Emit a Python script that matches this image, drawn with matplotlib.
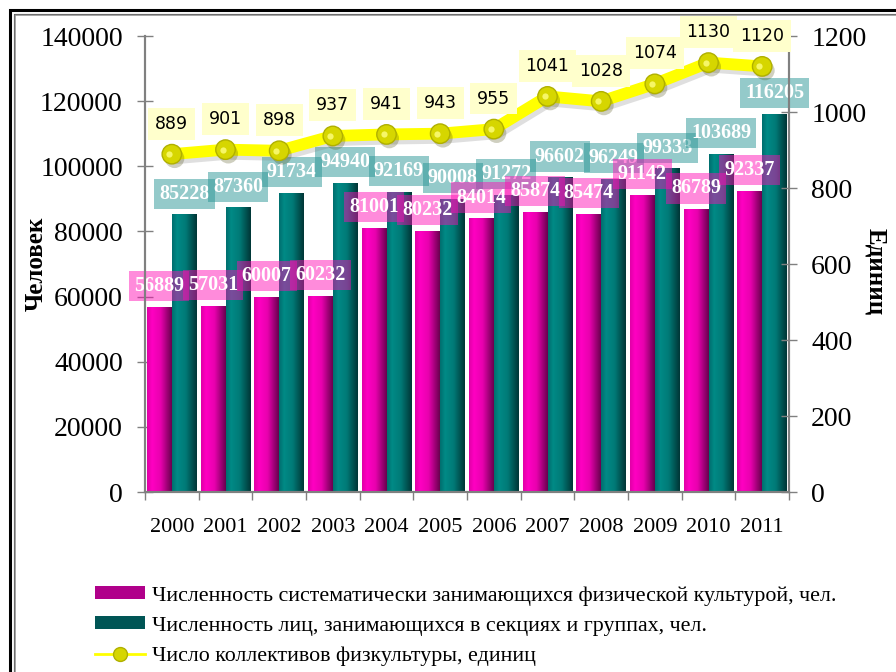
import numpy as np
import matplotlib
matplotlib.use('Agg')
import matplotlib.pyplot as plt
import matplotlib.patheffects as pe
from matplotlib.colors import LinearSegmentedColormap
from matplotlib.patches import Rectangle, Patch
from matplotlib.lines import Line2D

plt.rcParams['font.family'] = ['Liberation Serif', 'DejaVu Serif']

# data
years = ['2000', '2001', '2002', '2003', '2004', '2005',
         '2006', '2007', '2008', '2009', '2010', '2011']
systematic = [56889, 57031, 60007, 60232, 81001, 80232,
              84014, 85874, 85474, 91142, 86789, 92337]
sections = [85228, 87360, 91734, 94940, 92169, 90008,
            91272, 96602, 96249, 99333, 103689, 116205]
collectives = [889, 901, 898, 937, 941, 943, 955, 1041, 1028, 1074, 1130, 1120]

label_sys = 'Численность систематически занимающихся физической культурой, чел.'
label_sec = 'Численность лиц, занимающихся в секциях и группах, чел.'
label_col = 'Число коллективов физкультуры, единиц'

W, H = 896, 672
fig = plt.figure(figsize=(W/100, H/100), dpi=100)
ax = fig.add_axes([145/W, 1-492/H, (789-145)/W, (492-36)/H])
ax2 = ax.twinx()

x = np.arange(len(years))
bw = 0.465

pink_cmap = LinearSegmentedColormap.from_list(
    'pink', [(0, '#e000a6'), (0.2, '#ff00c2'), (0.55, '#e800ae'), (1, '#6a004e')])
teal_cmap = LinearSegmentedColormap.from_list(
    'teal', [(0, '#006e6e'), (0.2, '#008a86'), (0.55, '#007a77'), (1, '#003636')])


def shade(a, bars, cmap):
    # horizontal gradient clipped to every bar
    grad = np.linspace(0, 1, 64).reshape(1, -1)
    for b in bars:
        x0 = b.get_x()
        im = a.imshow(grad, cmap=cmap, aspect='auto', interpolation='bilinear',
                      extent=(x0, x0 + b.get_width(), 0, b.get_height()),
                      zorder=2.1)
        im.set_clip_path(b)


bars_sys = ax.bar(x - bw/2, systematic, bw, color='#f000b0', lw=0, zorder=2)
bars_sec = ax.bar(x + bw/2, sections, bw, color='#008080', lw=0, zorder=2)
shade(ax, bars_sys, pink_cmap)
shade(ax, bars_sec, teal_cmap)

ax.set_xlim(-0.5, len(years) - 0.5)
ax.set_ylim(0, 140000)
ax2.set_ylim(0, 1200)

# value labels of the bars
for xi, v in zip(x, sections):
    ax.annotate(str(v), (xi + bw/2, v), xytext=(0, 15), textcoords='offset points',
                ha='center', va='center', color='white', fontsize=14.5, fontweight='bold',
                bbox=dict(boxstyle='square,pad=0.25', fc='#2a9696', ec='none', alpha=0.5),
                zorder=5)
for xi, v in zip(x, systematic):
    ax.annotate(str(v), (xi - bw/2, v), xytext=(0, 15), textcoords='offset points',
                ha='center', va='center', color='white', fontsize=14.5, fontweight='bold',
                bbox=dict(boxstyle='square,pad=0.25', fc='#ff0ab4', ec='none', alpha=0.47),
                zorder=6)

# line with sphere markers
ax2.plot(x, collectives, color='#ffff00', lw=8.5, solid_capstyle='round', zorder=3,
         path_effects=[pe.SimpleLineShadow(offset=(2, -3), shadow_color='gray', alpha=0.25),
                       pe.Normal()])
ax2.plot(x, collectives, ls='none', marker='o', ms=14, mfc='#d6d600', mec='#b0b000',
         mew=1, zorder=4,
         path_effects=[pe.SimplePatchShadow(offset=(2, -3), alpha=0.25), pe.Normal()])
ax2.plot(x - 0.05, collectives, ls='none', marker='o', ms=4.5, mfc='#ffff80', mec='none',
         alpha=0.8, zorder=4)
for xi, v in zip(x, collectives):
    ax2.annotate(str(v), (xi, v), xytext=(0, 22), textcoords='offset points',
                 ha='center', va='center', color='black', fontsize=12.5,
                 family='DejaVu Sans',
                 bbox=dict(boxstyle='square,pad=0.4', fc='#ffffcc', ec='none'),
                 zorder=6, annotation_clip=False)

# axes styling
grey = '#808080'
for a in (ax, ax2):
    a.spines['top'].set_visible(False)
    for s in ('left', 'right', 'bottom'):
        a.spines[s].set_color(grey)
        a.spines[s].set_linewidth(1.5)

ax.set_yticks(np.arange(0, 140001, 20000))
ax.tick_params(axis='y', direction='inout', length=12, width=1, color=grey,
               labelsize=20, pad=10)
ax2.set_yticks(np.arange(0, 1201, 200))
ax2.tick_params(axis='y', direction='inout', length=12, width=1, color=grey,
                labelsize=20, pad=10)

ax.set_xticks(x)
ax.set_xticklabels(years)
ax.set_xticks(np.arange(-0.5, len(years)), minor=True)
ax.tick_params(axis='x', which='major', length=0, labelsize=16, pad=19)
ax.tick_params(axis='x', which='minor', direction='out', length=6, width=1, color=grey)

fig.text(36/W, 1-264/H, 'Человек', rotation=90, ha='center', va='center',
         fontsize=18, fontweight='bold')
fig.text(876/W, 1-272/H, 'Единиц', rotation=270, ha='center', va='center',
         fontsize=18, fontweight='bold')

handles = [Patch(facecolor='#b0008a', edgecolor='none'),
           Patch(facecolor='#005555', edgecolor='none'),
           Line2D([], [], color='#ffff00', lw=2, marker='o', ms=10,
                  mfc='#d6d600', mec='#b0b000')]
fig.legend(handles, [label_sys, label_sec, label_col], loc='center left',
           bbox_to_anchor=(95/W, 1-626/H), frameon=False, fontsize=15.8,
           handlelength=2.3, handleheight=0.5, handletextpad=0.3,
           labelspacing=0.5, borderpad=0, borderaxespad=0)

# double frame round the chart area (runs off the right and bottom)
fig.add_artist(Rectangle((9.5/W, -1), 2, 1 - 9.5/H + 1, transform=fig.transFigure,
                         fill=False, ec='black', lw=2.2))
fig.add_artist(Rectangle((13.5/W, -1), 2, 1 - 13.5/H + 1, transform=fig.transFigure,
                         fill=False, ec='black', lw=0.8))
fig.add_artist(Rectangle((15/W, -1), 2, 1 - 15/H + 1, transform=fig.transFigure,
                         fill=False, ec='#909090', lw=1.1))

fig.savefig('out.png', dpi=100)
